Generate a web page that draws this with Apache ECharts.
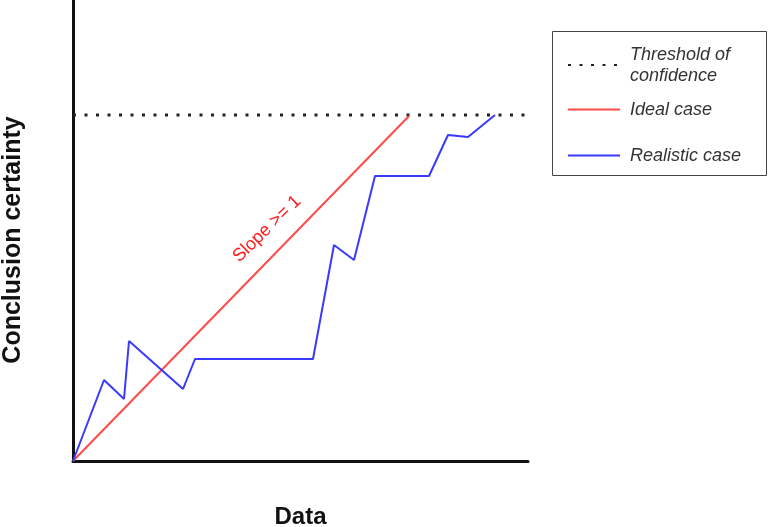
<!DOCTYPE html>
<html>
<head>
<meta charset="utf-8">
<script src="https://cdn.jsdelivr.net/npm/echarts@6/dist/echarts.min.js"></script>
<style>
html,body{margin:0;padding:0;background:#fff;}
#chart{width:770px;height:527px;}
</style>
</head>
<body>
<div id="chart"></div>
<script>
// ---- data (arbitrary units) ----
var seriesNames = ['Threshold of confidence', 'Ideal case', 'Realistic case'];
var thresholdX = [0, 455];
var thresholdY = [346, 346];
var idealX = [0, 336];
var idealY = [0, 345];
var realisticX = [0, 31, 51, 56, 110, 122, 240, 261, 281, 302, 356, 375, 395, 422];
var realisticY = [0, 81, 62, 120, 72, 102, 102, 216, 201, 285, 285, 326, 324, 346];
var xRange = [0, 455];
var yRange = [0, 461];
var xTitle = 'Data';
var yTitle = 'Conclusion certainty';
var slopeNote = 'Slope >= 1';

function pairs(xs, ys) { return xs.map(function (x, i) { return [x, ys[i]]; }); }

var chart = echarts.init(document.getElementById('chart'), null, {renderer: 'canvas'});
var legendText = {fontFamily: 'Liberation Sans, Arial, sans-serif', fontSize: 18, fontStyle: 'italic', color: '#333', lineHeight: 21, padding: [0, 0, 0, 5]};
function legendAt(name, top) {
  return {
    data: [name], left: 567, top: top, padding: 0, itemWidth: 52, itemHeight: 14,
    textStyle: legendText, selectedMode: false,
    itemStyle: {opacity: 0},
    formatter: function (n) { return n === seriesNames[0] ? 'Threshold of\nconfidence' : n; }
  };
}

chart.setOption({
  animation: false,
  backgroundColor: '#fff',
  grid: {left: 73, top: 0, width: 455, height: 461, containLabel: false, outerBoundsMode: 'none'},
  xAxis: {
    type: 'value', min: xRange[0], max: xRange[1],
    axisLine: {show: true, lineStyle: {color: '#111', width: 3}},
    axisTick: {show: false}, axisLabel: {show: false}, splitLine: {show: false},
    name: xTitle, nameLocation: 'middle', nameGap: 44,
    nameTextStyle: {fontFamily: 'Liberation Sans, Arial, sans-serif', fontWeight: 'bold', fontSize: 24, color: '#111'}
  },
  yAxis: {
    type: 'value', min: yRange[0], max: yRange[1],
    axisLine: {show: true, onZero: false, lineStyle: {color: '#111', width: 3}},
    axisTick: {show: false}, axisLabel: {show: false}, splitLine: {show: false},
    name: yTitle, nameLocation: 'middle', nameGap: 47, nameRotate: 90,
    nameTextStyle: {fontFamily: 'Liberation Sans, Arial, sans-serif', fontWeight: 'bold', fontSize: 25, color: '#111', padding: [0, 19, 0, 0]}
  },
  legend: [legendAt(seriesNames[0], 44), legendAt(seriesNames[1], 99), legendAt(seriesNames[2], 145)],
  graphic: [
    {type: 'rect', shape: {x: 552.5, y: 31.5, width: 214, height: 144}, style: {fill: 'none', stroke: '#444', lineWidth: 1}, silent: true},
    {type: 'text', x: 267, y: 229, rotation: 44 * Math.PI / 180,
     style: {text: slopeNote, fill: '#ff1a1a', font: '18px "Liberation Sans", Arial, sans-serif', align: 'center', verticalAlign: 'middle'}}
  ],
  series: [
    {name: seriesNames[0], type: 'line', data: pairs(thresholdX, thresholdY), symbol: 'none', showSymbol: false,
     itemStyle: {color: '#222'}, lineStyle: {color: '#222', width: 3, type: [3, 8.5]}},
    {name: seriesNames[1], type: 'line', data: pairs(idealX, idealY), symbol: 'none', showSymbol: false,
     itemStyle: {color: '#ff4a4a'}, lineStyle: {color: '#ff4a4a', width: 2}},
    {name: seriesNames[2], type: 'line', data: pairs(realisticX, realisticY), symbol: 'none', showSymbol: false,
     itemStyle: {color: '#3a3aff'}, lineStyle: {color: '#3a3aff', width: 2}}
  ]
});
</script>
</body>
</html>
